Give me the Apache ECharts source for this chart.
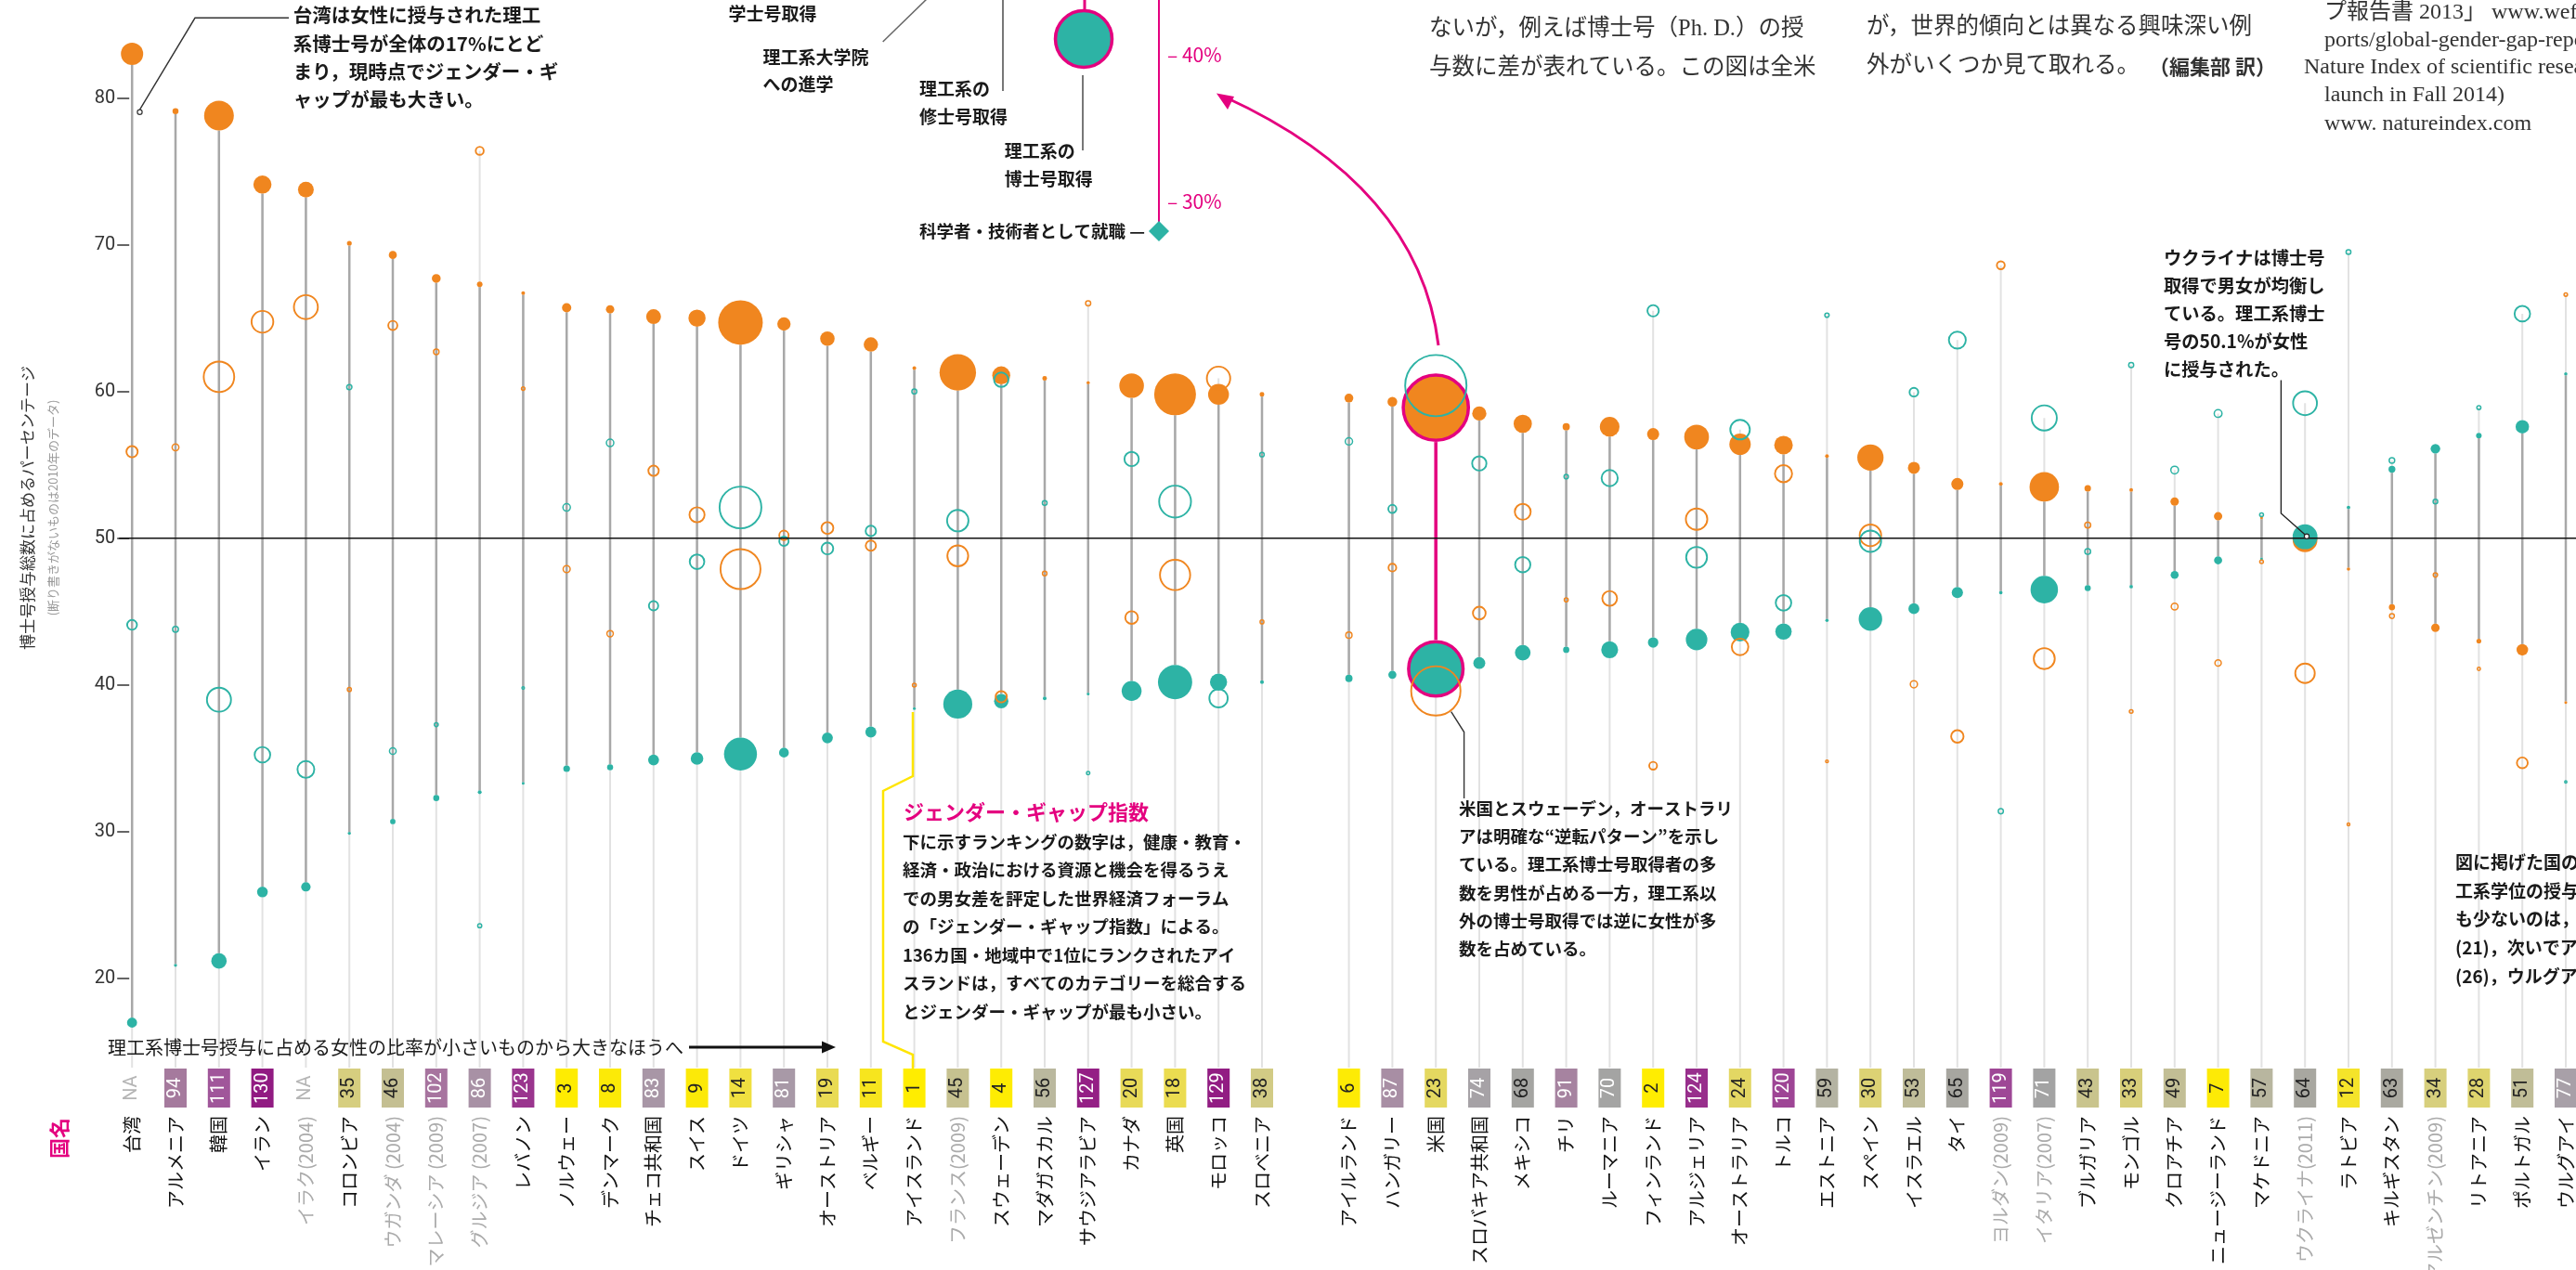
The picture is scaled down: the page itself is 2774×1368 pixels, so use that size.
<!DOCTYPE html>
<html><head><meta charset="utf-8">
<script src="https://cdn.jsdelivr.net/npm/echarts@6/dist/echarts.min.js"></script>
<style>html,body{margin:0;padding:0;background:#fff}#c{width:2774px;height:1368px}</style>
</head><body><div id="c"></div>
<script>
// ---------------- DATA ----------------
const categories = ['台湾','アルメニア','韓国','イラン','イラク(2004)','コロンビア','ウガンダ (2004)','マレーシア (2009)','グルジア (2007)','レバノン','ノルウェー','デンマーク','チェコ共和国','スイス','ドイツ','ギリシャ','オーストリア','ベルギー','アイスランド','フランス(2009)','スウェーデン','マダガスカル','サウジアラビア','カナダ','英国','モロッコ','スロベニア','','アイルランド','ハンガリー','米国','スロバキア共和国','メキシコ','チリ','ルーマニア','フィンランド','アルジェリア','オーストラリア','トルコ','エストニア','スペイン','イスラエル','タイ','ヨルダン(2009)','イタリア(2007)','ブルガリア','モンゴル','クロアチア','ニュージーランド','マケドニア','ウクライナ(2011)','ラトビア','キルギスタン','アルゼンチン(2009)','リトアニア','ポルトガル','ウルグアイ',''];
const genderGapRank = ['NA',94,111,130,'NA',35,46,102,86,123,3,8,83,9,14,81,19,11,1,45,4,56,127,20,18,129,38,null,6,87,23,74,68,91,70,2,124,24,120,59,30,53,65,119,71,43,33,49,7,57,64,12,63,34,28,51,77];
// % of STEM PhDs awarded to men / women (filled circles)
const stemMale   = [83,79.1,78.8,74.1,73.75,70.1,69.3,67.7,67.3,66.7,65.7,65.6,65.1,65.0,64.7,64.6,63.6,63.2,61.6,61.3,61.1,60.9,60.6,60.4,59.8,59.8,59.8,null,59.55,59.3,58.9,58.5,57.8,57.6,57.6,57.1,56.9,56.4,56.35,55.6,55.5,54.8,53.7,53.7,53.5,53.4,53.3,52.5,51.5,51.4,49.9,47.9,45.3,43.9,43.0,42.4,38.8];
const stemFemale = [17,20.9,21.2,25.9,26.25,29.9,30.7,32.3,32.7,33.3,34.3,34.4,34.9,35.0,35.3,35.4,36.4,36.8,38.4,38.7,38.9,39.1,39.4,39.6,40.2,40.2,40.2,null,40.45,40.7,41.1,41.5,42.2,42.4,42.4,42.9,43.1,43.6,43.65,44.4,44.5,45.2,46.3,46.3,46.5,46.6,46.7,47.5,48.5,48.6,50.1,52.1,54.7,56.1,57.0,57.6,61.2];
// % of non-STEM PhDs awarded to men / women (hollow circles)
const nonStemMale   = [55.9,56.2,61.0,64.75,65.75,39.7,64.5,62.7,76.4,60.2,47.9,43.5,54.6,51.6,47.9,50.2,50.7,49.5,40.0,48.8,39.2,47.6,66.0,44.6,47.5,60.9,44.3,null,43.4,48.0,39.6,44.9,51.8,45.8,45.9,34.5,51.3,42.6,54.4,34.8,50.2,40.05,36.5,68.6,41.8,50.9,38.2,45.35,41.5,48.4,40.8,30.5,44.7,47.5,41.1,34.7,66.6];
const nonStemFemale = [44.1,43.8,39.0,35.25,34.25,60.3,35.5,37.3,23.6,39.8,52.1,56.5,45.4,48.4,52.1,49.8,49.3,50.5,60.0,51.2,60.8,52.4,34.0,55.4,52.5,39.1,55.7,null,56.6,52.0,60.4,55.1,48.2,54.2,54.1,65.5,48.7,57.4,45.6,65.2,49.8,59.95,63.5,31.4,58.2,49.1,61.8,54.65,58.5,51.6,59.2,69.5,55.3,52.5,58.9,65.3,33.4];
// number of PhDs (circle area)
const stemMaleCount   = [900,66,1600,594,452,42,118,141,56,25,156,127,400,535,3600,320,380,375,25,2413,587,39,19,1097,3164,791,39,null,141,172,7700,366,607,95,702,264,1110,827,625,25,1251,264,264,25,1570,77,25,127,127,14,1114,21,70,130,42,242,12];
const stemFemaleCount = [184,17,430,208,161,18,52,67,27,12,81,66,214,288,1964,175,217,218,15,1523,373,25,13,719,2127,532,26,null,96,118,5373,259,443,70,517,198,840,639,484,20,1003,218,228,22,1365,67,22,115,119,13,1118,23,85,166,56,328,20];
const nonStemMaleCount   = [307,121,1890,1004,1200,52,213,85,172,42,129,109,268,516,3160,226,338,262,48,927,306,62,76,379,1852,1145,49,null,104,163,4732,381,565,50,496,166,977,609,647,31,979,132,365,168,940,97,46,122,108,46,820,31,69,59,37,288,43];
const nonStemFemaleCount = [243,94,1210,546,625,78,117,50,53,28,141,141,222,484,3440,224,328,268,72,973,474,68,39,471,2048,735,61,null,136,177,7218,467,525,60,584,314,928,821,543,59,971,198,635,77,1310,93,74,148,152,49,1190,69,86,66,53,542,22];
const yAxisMin = 20, yAxisMax = 80, yAxisStep = 10;
const highlightCountry = '米国';

// ---------------- STYLE ----------------
const ORANGE = '#F0861F', TEAL = '#2DB3A5', MAGENTA = '#E4007F';
const SANS = "'Noto Sans CJK JP','Noto Sans',sans-serif";
const SERIF = "'Liberation Serif','DejaVu Serif','Noto Sans CJK JP',serif";
const diam = n => Math.max(3, 0.8 * Math.sqrt(n));
const rankStops = [[1,[255,237,0]],[9,[252,233,8]],[14,[240,224,64]],[20,[232,218,88]],[30,[220,210,116]],[38,[210,203,133]],[46,[196,191,146]],[53,[191,188,153]],[59,[180,179,162]],[64,[168,167,160]],[71,[163,163,163]],[77,[168,160,168]],[86,[168,145,165]],[94,[165,122,157]],[102,[167,116,159]],[111,[160,86,154]],[120,[158,69,149]],[127,[148,31,133]],[136,[138,20,125]]];
function rankColor(r){
  for (let k=1;k<rankStops.length;k++){
    const [r0,c0]=rankStops[k-1],[r1,c1]=rankStops[k];
    if (r<=r1){const t=(r-r0)/(r1-r0);return 'rgb('+c0.map((c,j)=>Math.round(c+(c1[j]-c)*t)).join(',')+')';}
  }
  return 'rgb(138,20,125)';
}
const has = i => stemMale[i] != null;
const seriesData = categories.map((c,i)=>[i,50]);

function renderLines(params, api){
  const i = params.dataIndex; if (!has(i)) return null;
  const top = Math.max(stemMale[i], stemFemale[i], nonStemMale[i], nonStemFemale[i]);
  const pT = api.coord([i, top]), base = api.coord([i, yAxisMin]);
  const pM = api.coord([i, stemMale[i]]), pF = api.coord([i, stemFemale[i]]);
  const hl = categories[i] === highlightCountry;
  return {type:'group', children:[
    {type:'line', shape:{x1:pT[0],y1:pT[1],x2:pT[0],y2:base[1]+96}, style:{stroke:'#e2e2e2', lineWidth:2}},
    {type:'line', shape:{x1:pM[0],y1:pM[1],x2:pF[0],y2:pF[1]}, style:{stroke: hl?MAGENTA:'#a8a8a8', lineWidth: hl?3.5:2.5}}
  ]};
}
function filledItems(i){ return [[stemMale[i], stemMaleCount[i], ORANGE],[stemFemale[i], stemFemaleCount[i], TEAL]]; }
function renderWhite(params, api){
  const i = params.dataIndex; if (!has(i)) return null;
  const hl = categories[i] === highlightCountry;
  return {type:'group', children: filledItems(i).map(([v,n])=>{const p=api.coord([i,v]);
    return {type:'circle', shape:{cx:p[0],cy:p[1],r:diam(n)/2+(hl?2:0)}, style:{fill:'#fff'}};})};
}
function renderFilled(params, api){
  const i = params.dataIndex; if (!has(i)) return null;
  const hl = categories[i] === highlightCountry;
  return {type:'group', children: filledItems(i).map(([v,n,col])=>{const p=api.coord([i,v]);
    return {type:'circle', shape:{cx:p[0],cy:p[1],r:diam(n)/2}, style: hl?{fill:col, stroke:MAGENTA, lineWidth:3.5, blend:'multiply'}:{fill:col, blend:'multiply'}};})};
}
function renderHollow(params, api){
  const i = params.dataIndex; if (!has(i)) return null;
  const items = [[nonStemMale[i], nonStemMaleCount[i], ORANGE],[nonStemFemale[i], nonStemFemaleCount[i], TEAL]];
  return {type:'group', children: items.map(([v,n,col])=>{const p=api.coord([i,v]); const d=diam(n); const lw = d<10?1.5:1.9;
    return {type:'circle', shape:{cx:p[0],cy:p[1],r:Math.max(1.2,d/2-lw/2)}, style:{fill:'none', stroke:col, lineWidth:lw, blend:'multiply'}};})};
}
function renderFifty(params, api){
  const a = api.coord([0,50]), b = api.coord([categories.length-1,50]);
  return {type:'line', shape:{x1:a[0]-14,y1:a[1],x2:b[0],y2:b[1]}, style:{stroke:'#111', lineWidth:1.6}};
}
function textStyle(o){
  const s = Object.assign({}, o);
  if (o.align){ s.textAlign = o.align; }
  if (o.verticalAlign){ s.textVerticalAlign = o.verticalAlign; }
  return s;
}
function renderBox(params, api){
  const i = params.dataIndex; const r = genderGapRank[i]; if (r == null) return null;
  const b = api.coord([i, yAxisMin]); const cx = b[0], top = b[1]+97, h = 42, w = 24, cy = top+h/2;
  if (r === 'NA') return {type:'text', x:cx, y:cy, rotation:Math.PI/2, style:textStyle({text:'NA', fill:'#b5b5b5', fontSize:20, fontFamily:'Roboto', align:'center', verticalAlign:'middle'})};
  return {type:'group', children:[
    {type:'rect', shape:{x:cx-w/2,y:top,width:w,height:h}, style:{fill:rankColor(r)}},
    {type:'text', x:cx, y:cy, rotation:Math.PI/2, style:textStyle({text:String(r), fill: r>=69?'#fff':'#222', fontSize:20, fontFamily:'Roboto', align:'center', verticalAlign:'middle'})}
  ]};
}
const custom = (renderItem, data) => ({type:'custom', coordinateSystem:'cartesian2d', data: data||seriesData, encode:{x:0,y:1}, renderItem, silent:true, clip:false, animation:false, emphasis:{disabled:true}});

// ---------------- ANNOTATIONS ----------------
function T(x, y, text, o){
  o = o || {};
  const lh = o.lineHeight || 30;
  const st = textStyle({text, fill:o.fill||'#1a1a1a', fontSize:o.size||19, fontFamily:o.family||SANS, fontWeight:o.weight||'bold', align:o.align||'left', verticalAlign:o.va||'top', lineHeight:lh});
  st.textLineHeight = lh;
  if (o.rich) st.rich = o.rich;
  return {type:'text', x, y: (o.va==='middle')? y : y - lh/2, rotation:o.rot||0, z:20, silent:true, style: st};
}
const L = (pts, stroke, w) => ({type:'polyline', shape:{points:pts}, style:{stroke, lineWidth:w, fill:null}, z:15, silent:true});
const graphics = [
  // y axis title
  T(29.5, 547, '博士号授与総数に占めるパーセンテージ', {size:17, weight:'normal', fill:'#333', align:'center', va:'middle', rot:Math.PI/2}),
  T(57, 547, '(断り書きがないものは2010年のデータ)', {size:13, weight:'normal', fill:'#9a9a9a', align:'center', va:'middle', rot:Math.PI/2}),
  T(64, 1226, '国名', {size:22, fill:MAGENTA, align:'center', va:'middle', rot:Math.PI/2}),
  // bottom arrow
  T(116, 1128, '理工系博士号授与に占める女性の比率が小さいものから大きなほうへ', {size:20, weight:'normal', fill:'#1a1a1a', va:'middle'}),
  L([[742,1128],[888,1128]], '#111', 2.8),
  {type:'polygon', shape:{points:[[900,1128],[885,1121.5],[885,1134.5]]}, style:{fill:'#111'}, z:15, silent:true},
  // Taiwan note
  T(315.7, 16.5, '台湾は女性に授与された理工\n系博士号が全体の17%にとど\nまり，現時点でジェンダー・ギ\nャップが最も大きい。', {size:20.5, lineHeight:30.3}),
  L([[311,19.3],[210,19.3],[150.5,118.2]], '#333', 1.4),
  {type:'circle', shape:{cx:150.5, cy:120.7, r:2.6}, style:{fill:'#fff', stroke:'#333', lineWidth:1.2}, z:16, silent:true},
  // pipeline legend (US)
  T(784.6, 15, '学士号取得', {size:19}),
  L([[950.7,45],[1000,-3]], '#666', 1.5),
  T(821.4, 61.7, '理工系大学院\nへの進学', {size:19, lineHeight:29}),
  L([[1080,0],[1080,98]], '#777', 2),
  T(990, 95.7, '理工系の\n修士号取得', {size:19, lineHeight:30}),
  L([[1168,0],[1168,11]], MAGENTA, 3),
  {type:'circle', shape:{cx:1167, cy:42, r:30.5}, style:{fill:TEAL, stroke:MAGENTA, lineWidth:3.5}, z:15, silent:true},
  L([[1166,81],[1166,162]], '#777', 2),
  T(1081.8, 162.3, '理工系の\n博士号取得', {size:19, lineHeight:30.4}),
  L([[1248,0],[1248,240]], MAGENTA, 2),
  T(1257, 59, '– 40%', {size:21, weight:'normal', fill:MAGENTA, va:'middle'}),
  T(1257, 217.5, '– 30%', {size:21, weight:'normal', fill:MAGENTA, va:'middle'}),
  T(1233, 249, '科学者・技術者として就職 —', {size:18.5, align:'right', va:'middle'}),
  {type:'polygon', shape:{points:[[1248,238],[1259,249],[1248,260],[1237,249]]}, style:{fill:TEAL}, z:15, silent:true},
  // magenta arrow
  {type:'bezierCurve', shape:{x1:1549, y1:372, x2:1318, y2:104, cpx1:1528, cpy1:200}, style:{stroke:MAGENTA, lineWidth:3, fill:null}, z:15, silent:true},
  {type:'polygon', shape:{points:[[1310,100.5],[1329,104],[1322,118]]}, style:{fill:MAGENTA}, z:15, silent:true},
  // top-right article text
  T(1539, 31.7, 'ないが，例えば博士号（Ph. D.）の授\n与数に差が表れている。この図は全米', {size:24.5, weight:'normal', family:SERIF, fill:'#333', lineHeight:41.6}),
  T(2010, 30, 'が，世界的傾向とは異なる興味深い例\n外がいくつか見て取れる。', {size:24.5, weight:'normal', family:SERIF, fill:'#333', lineHeight:41.7}),
  T(2314, 71.7, '（編集部 訳）', {size:22, fill:'#333'}),
  T(2503, 13.3, 'プ報告書 2013」 www.weforum.org/reports', {size:24, weight:'normal', family:SERIF, fill:'#333'}),
  T(2503, 43.3, 'ports/global-gender-gap-report-2013', {size:24, weight:'normal', family:SERIF, fill:'#333'}),
  T(2481, 72.7, 'Nature Index of scientific research (to', {size:24, weight:'normal', family:SERIF, fill:'#333'}),
  T(2503, 103, 'launch in Fall 2014)', {size:24, weight:'normal', family:SERIF, fill:'#333'}),
  T(2503, 133.3, 'www. natureindex.com', {size:24, weight:'normal', family:SERIF, fill:'#333'}),
  // gender gap box
  L([[983,767],[983,836],[951,852],[951,1122],[983,1136],[983,1151]], '#FFE500', 2.5),
  T(973, 875, 'ジェンダー・ギャップ指数', {size:22, fill:MAGENTA}),
  T(972, 906.5, '下に示すランキングの数字は，健康・教育・\n経済・政治における資源と機会を得るうえ\nでの男女差を評定した世界経済フォーラム\nの「ジェンダー・ギャップ指数」による。\n136カ国・地域中で1位にランクされたアイ\nスランドは，すべてのカテゴリーを総合する\nとジェンダー・ギャップが最も小さい。', {size:18.5, lineHeight:30.5}),
  // US note
  L([[1562.7,766.7],[1576.6,788.5],[1576.6,860]], '#333', 1.4),
  T(1571, 870.6, '米国とスウェーデン，オーストラリ\nアは明確な“逆転パターン”を示し\nている。理工系博士号取得者の多\n数を男性が占める一方，理工系以\n外の博士号取得では逆に女性が多\n数を占めている。', {size:18.5, lineHeight:30.3}),
  // Ukraine note
  T(2330, 277.6, 'ウクライナは博士号\n取得で男女が均衡し\nている。理工系博士\n号の50.1%が女性\nに授与された。', {size:19.3, lineHeight:30.1}),
  L([[2456.4,409.6],[2456.4,553],[2482,575.8]], '#222', 1.4),
  {type:'circle', shape:{cx:2484, cy:577.8, r:2.6}, style:{fill:'#fff', stroke:'#222', lineWidth:1.2}, z:16, silent:true},
  // bottom-right note (cut)
  T(2644, 929, '図に掲げた国の\n工系学位の授与\nも少ないのは，\n(21)，次いでア\n(26)，ウルグア', {size:19, lineHeight:30.6})
];

const chart = echarts.init(document.getElementById('c'), null, {renderer:'canvas', width:2774, height:1368});
chart.setOption({
  backgroundColor:'#fff',
  animation:false,
  grid:{left:142.2, top:105.5, width:46.8*(categories.length-1), height:948.6, containLabel:false, outerBoundsMode:'none'},
  xAxis:{type:'category', data:categories, boundaryGap:false,
    axisLine:{show:false}, axisTick:{show:false}, splitLine:{show:false},
    axisLabel:{interval:0, rotate:90, margin:148, fontSize:20, fontFamily:SANS, color:'#111',
      formatter: v => v.indexOf('(')>=0 ? '{g|'+v+'}' : v,
      rich:{g:{color:'#ababab', fontSize:20, fontFamily:SANS}}}},
  yAxis:{type:'value', min:yAxisMin, max:yAxisMax, interval:yAxisStep, offset:3,
    axisLine:{show:false}, splitLine:{show:false},
    axisTick:{show:true, length:13, lineStyle:{color:'#333', width:1.5}},
    axisLabel:{fontSize:20, fontFamily:'Roboto', color:'#333', margin:15}},
  series:[
    custom(renderLines), custom(renderWhite), custom(renderFilled), custom(renderHollow),
    custom(renderFifty, [[0,50]]), custom(renderBox)
  ],
  graphic:{elements:graphics}
});
</script></body></html>
